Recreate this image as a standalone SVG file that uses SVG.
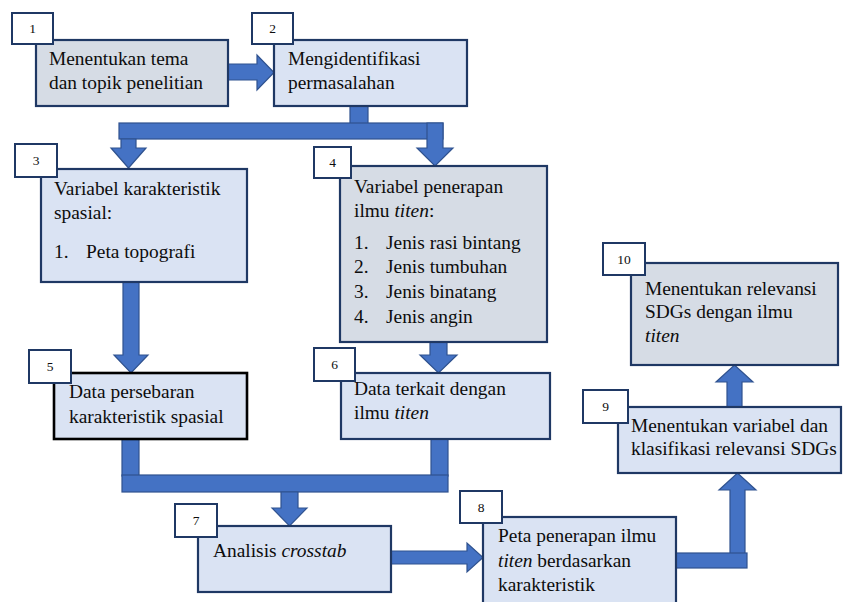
<svg xmlns="http://www.w3.org/2000/svg" width="845" height="602" viewBox="0 0 845 602">
<style>
.box{stroke:#1f3864;stroke-width:2.2}
.lt{fill:#dae3f3}
.gr{fill:#d6dce5}
.lbl{fill:#ffffff;stroke:#1f3864;stroke-width:2}
.t{font-family:"Liberation Serif","Times New Roman",serif;font-size:19.4px;fill:#0d0d0d}
.n{font-family:"Liberation Serif","Times New Roman",serif;font-size:13.5px;fill:#0d0d0d;text-anchor:middle}
.ar{fill:#4472c4;stroke:#2f528f;stroke-width:1.2;stroke-linejoin:miter}
</style>
<rect width="845" height="602" fill="#ffffff"/>
<g id="connectors">
<polygon class="ar" points="228,64 257,64 257,55 274,72.5 257,90 257,80 228,80"/>
<rect class="ar" x="350" y="106" width="18" height="18"/>
<rect class="ar" x="119" y="123" width="324" height="16"/>
<polygon class="ar" points="121,139 136,139 136,148 146,148 128.5,168 111,148 121,148"/>
<polygon class="ar" points="427,123 443,123 443,148 453,148 435,166 417,148 427,148"/>
<polygon class="ar" points="123,282 139,282 139,355 148,355 131,373 114,355 123,355"/>
<polygon class="ar" points="430,342 447,342 447,355 457,355 438.5,373 420,355 430,355"/>
<rect class="ar" x="122" y="439" width="17" height="37"/>
<rect class="ar" x="431" y="439" width="17" height="37"/>
<rect class="ar" x="122" y="475" width="326" height="17"/>
<polygon class="ar" points="281,492 298,492 298,508 307,508 289.5,526 272,508 281,508"/>
<polygon class="ar" points="391,551 467,551 467,543 483,557.5 467,572 467,564 391,564"/>
<polygon class="ar" points="730,560 730,490 719,490 737.5,473 756,490 745,490 745,560"/>
<rect class="ar" x="676" y="553" width="71" height="15"/>
<polygon class="ar" points="727,407 727,382 716,382 734.5,365 753,382 742,382 742,407"/>
</g>
<g id="node1">
<rect class="box gr" x="36" y="40" width="192" height="66"/>
<rect class="lbl" x="12" y="13" width="41" height="31"/>
<text class="n" x="32.5" y="33">1</text>
<text class="t" x="49" y="65">Menentukan tema</text>
<text class="t" x="49" y="89">dan topik penelitian</text>
</g>
<g id="node2">
<rect class="box lt" x="274" y="40" width="193" height="66"/>
<rect class="lbl" x="252" y="13" width="41" height="31"/>
<text class="n" x="272.5" y="33">2</text>
<text class="t" x="288" y="65">Mengidentifikasi</text>
<text class="t" x="288" y="89">permasalahan</text>
</g>
<g id="node3">
<rect class="box lt" x="41" y="169" width="206" height="113"/>
<rect class="lbl" x="15" y="144" width="42" height="33"/>
<text class="n" x="36" y="165">3</text>
<text class="t" x="54" y="195">Variabel karakteristik</text>
<text class="t" x="54" y="219">spasial:</text>
<text class="t" x="54" y="258">1.</text>
<text class="t" x="86" y="258">Peta topografi</text>
</g>
<g id="node4">
<rect class="box gr" x="340" y="166" width="207" height="176"/>
<rect class="lbl" x="314" y="147" width="37" height="31"/>
<text class="n" x="332.5" y="167">4</text>
<text class="t" x="354" y="193">Variabel penerapan</text>
<text class="t" x="354" y="217">ilmu <tspan font-style="italic">titen</tspan>:</text>
<text class="t" x="354" y="249">1.</text><text class="t" x="386" y="249">Jenis rasi bintang</text>
<text class="t" x="354" y="273">2.</text><text class="t" x="386" y="273">Jenis tumbuhan</text>
<text class="t" x="354" y="298">3.</text><text class="t" x="386" y="298">Jenis binatang</text>
<text class="t" x="354" y="323">4.</text><text class="t" x="386" y="323">Jenis angin</text>
</g>
<g id="node5">
<rect class="lt" x="54" y="373" width="193" height="66" stroke="#000000" stroke-width="2.6"/>
<rect class="lbl" x="29" y="350" width="42" height="33"/>
<text class="n" x="50" y="371">5</text>
<text class="t" x="69" y="398">Data persebaran</text>
<text class="t" x="69" y="423">karakteristik spasial</text>
</g>
<g id="node6">
<rect class="box lt" x="341" y="373" width="209" height="66"/>
<rect class="lbl" x="314" y="348" width="41" height="33"/>
<text class="n" x="334.5" y="369">6</text>
<text class="t" x="354" y="395">Data terkait dengan</text>
<text class="t" x="354" y="419">ilmu <tspan font-style="italic">titen</tspan></text>
</g>
<g id="node7">
<rect class="box lt" x="198" y="526" width="193" height="66"/>
<rect class="lbl" x="175" y="504" width="42" height="33"/>
<text class="n" x="196" y="525">7</text>
<text class="t" x="213" y="557">Analisis <tspan font-style="italic">crosstab</tspan></text>
</g>
<g id="node8">
<rect class="box lt" x="483" y="517" width="193" height="95"/>
<rect class="lbl" x="460" y="491" width="42" height="32"/>
<text class="n" x="481" y="512">8</text>
<text class="t" x="498" y="542">Peta penerapan ilmu</text>
<text class="t" x="498" y="567"><tspan font-style="italic">titen</tspan> berdasarkan</text>
<text class="t" x="498" y="591">karakteristik</text>
</g>
<g id="node9">
<rect class="box lt" x="618" y="407" width="223" height="66"/>
<rect class="lbl" x="583" y="390" width="45" height="33"/>
<text class="n" x="605.5" y="411">9</text>
<text class="t" x="631" y="432">Menentukan variabel dan</text>
<text class="t" x="631" y="455">klasifikasi relevansi SDGs</text>
</g>
<g id="node10">
<rect class="box gr" x="631" y="263" width="207" height="102"/>
<rect class="lbl" x="603" y="243" width="42" height="32"/>
<text class="n" x="624" y="264">10</text>
<text class="t" x="645" y="295">Menentukan relevansi</text>
<text class="t" x="645" y="318">SDGs dengan ilmu</text>
<text class="t" x="645" y="342" font-style="italic">titen</text>
</g>
</svg>
